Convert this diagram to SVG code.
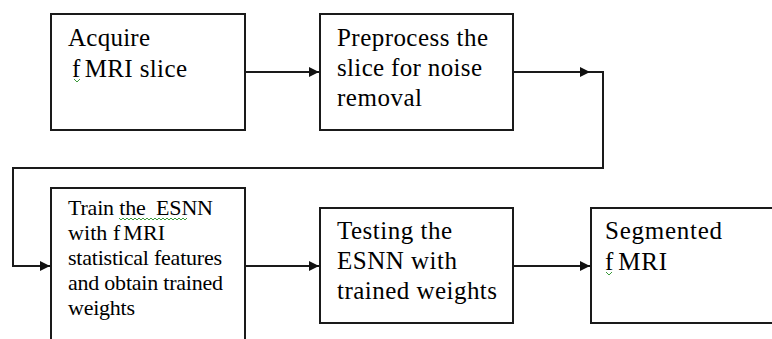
<svg xmlns="http://www.w3.org/2000/svg" width="772" height="339" viewBox="0 0 772 339">
<defs>
<style>
.box{fill:#fff;stroke:#1a1a1a;stroke-width:2}
.con{fill:none;stroke:#1a1a1a;stroke-width:2}
.sq{fill:none;stroke:#3a9a3a;stroke-width:1}
</style>
<marker id="ah" markerWidth="10" markerHeight="10" refX="10" refY="5" orient="auto" markerUnits="userSpaceOnUse">
<path d="M0,0 L10,5 L0,10 Z" fill="#111"/>
</marker>
</defs>
<rect width="772" height="339" fill="#fff"/>
<g id="connectors">
<line class="con" x1="245" y1="72" x2="319" y2="72" marker-end="url(#ah)"/>
<path class="con" d="M513,72 H603 V168 H13 V266 H50"/>
<line class="con" x1="513" y1="72" x2="590" y2="72" marker-end="url(#ah)"/>
<path class="con" d="M13,266 H50" marker-end="url(#ah)"/>
<line class="con" x1="245" y1="266" x2="319" y2="266" marker-end="url(#ah)"/>
<line class="con" x1="513" y1="266" x2="590" y2="266" marker-end="url(#ah)"/>
</g>
<g id="node1">
<rect class="box" x="51" y="14" width="194" height="116"/>
<text x="68" y="46" font-size="25" font-family="Liberation Serif" style="font-family:'Liberation Serif',serif" textLength="82">Acquire</text>
<text x="72" y="77" font-size="25" font-family="Liberation Serif" style="font-family:'Liberation Serif',serif" textLength="115">f<tspan dx="4">MRI slice</tspan></text>
<path class="sq" d="M74,79 l3,3 l3,-3"/>
</g>
<g id="node2">
<rect class="box" x="320" y="14" width="193" height="116"/>
<text x="337" y="46" font-size="25" font-family="Liberation Serif" style="font-family:'Liberation Serif',serif" textLength="151">Preprocess the</text>
<text x="337" y="76" font-size="25" font-family="Liberation Serif" style="font-family:'Liberation Serif',serif" textLength="145">slice for noise</text>
<text x="337" y="106" font-size="25" font-family="Liberation Serif" style="font-family:'Liberation Serif',serif" textLength="85">removal</text>
</g>
<g id="node3">
<rect class="box" x="51" y="188" width="194" height="160"/>
<text x="68" y="215" font-size="22" font-family="Liberation Serif" style="font-family:'Liberation Serif',serif" textLength="145" xml:space="preserve">Train the  ESNN</text>
<path class="sq" d="M119,218 l2,2 l2,-2 l2,2 l2,-2 l2,2 l2,-2 l2,2 l2,-2 l2,2 l2,-2 l2,2 l2,-2 l2,2 l2,-2 l2,2 l2,-2 l2,2 l2,-2 l2,2 l2,-2 l2,2 l2,-2 l2,2 l2,-2 l2,2 l2,-2 l2,2 l2,-2 l2,2 l2,-2 l2,2 l2,-2 l2,2 l2,-2"/>
<text x="68" y="240" font-size="22" font-family="Liberation Serif" style="font-family:'Liberation Serif',serif" textLength="97">with f<tspan dx="3">MRI</tspan></text>
<text x="68" y="265" font-size="22" font-family="Liberation Serif" style="font-family:'Liberation Serif',serif" textLength="154">statistical features</text>
<text x="68" y="290" font-size="22" font-family="Liberation Serif" style="font-family:'Liberation Serif',serif" textLength="155">and obtain trained</text>
<text x="68" y="315" font-size="22" font-family="Liberation Serif" style="font-family:'Liberation Serif',serif" textLength="67">weights</text>
</g>
<g id="node4">
<rect class="box" x="320" y="208" width="193" height="115"/>
<text x="337" y="239" font-size="25" font-family="Liberation Serif" style="font-family:'Liberation Serif',serif" textLength="115">Testing the</text>
<text x="337" y="269" font-size="25" font-family="Liberation Serif" style="font-family:'Liberation Serif',serif" textLength="120">ESNN with</text>
<text x="337" y="299" font-size="25" font-family="Liberation Serif" style="font-family:'Liberation Serif',serif" textLength="160">trained weights</text>
</g>
<g id="node5">
<rect class="box" x="591" y="208" width="200" height="115"/>
<text x="605" y="239" font-size="25" font-family="Liberation Serif" style="font-family:'Liberation Serif',serif" textLength="117">Segmented</text>
<text x="605" y="270" font-size="25" font-family="Liberation Serif" style="font-family:'Liberation Serif',serif" textLength="62">f<tspan dx="4">MRI</tspan></text>
<path class="sq" d="M606,272 l3,3 l3,-3"/>
</g>
</svg>
